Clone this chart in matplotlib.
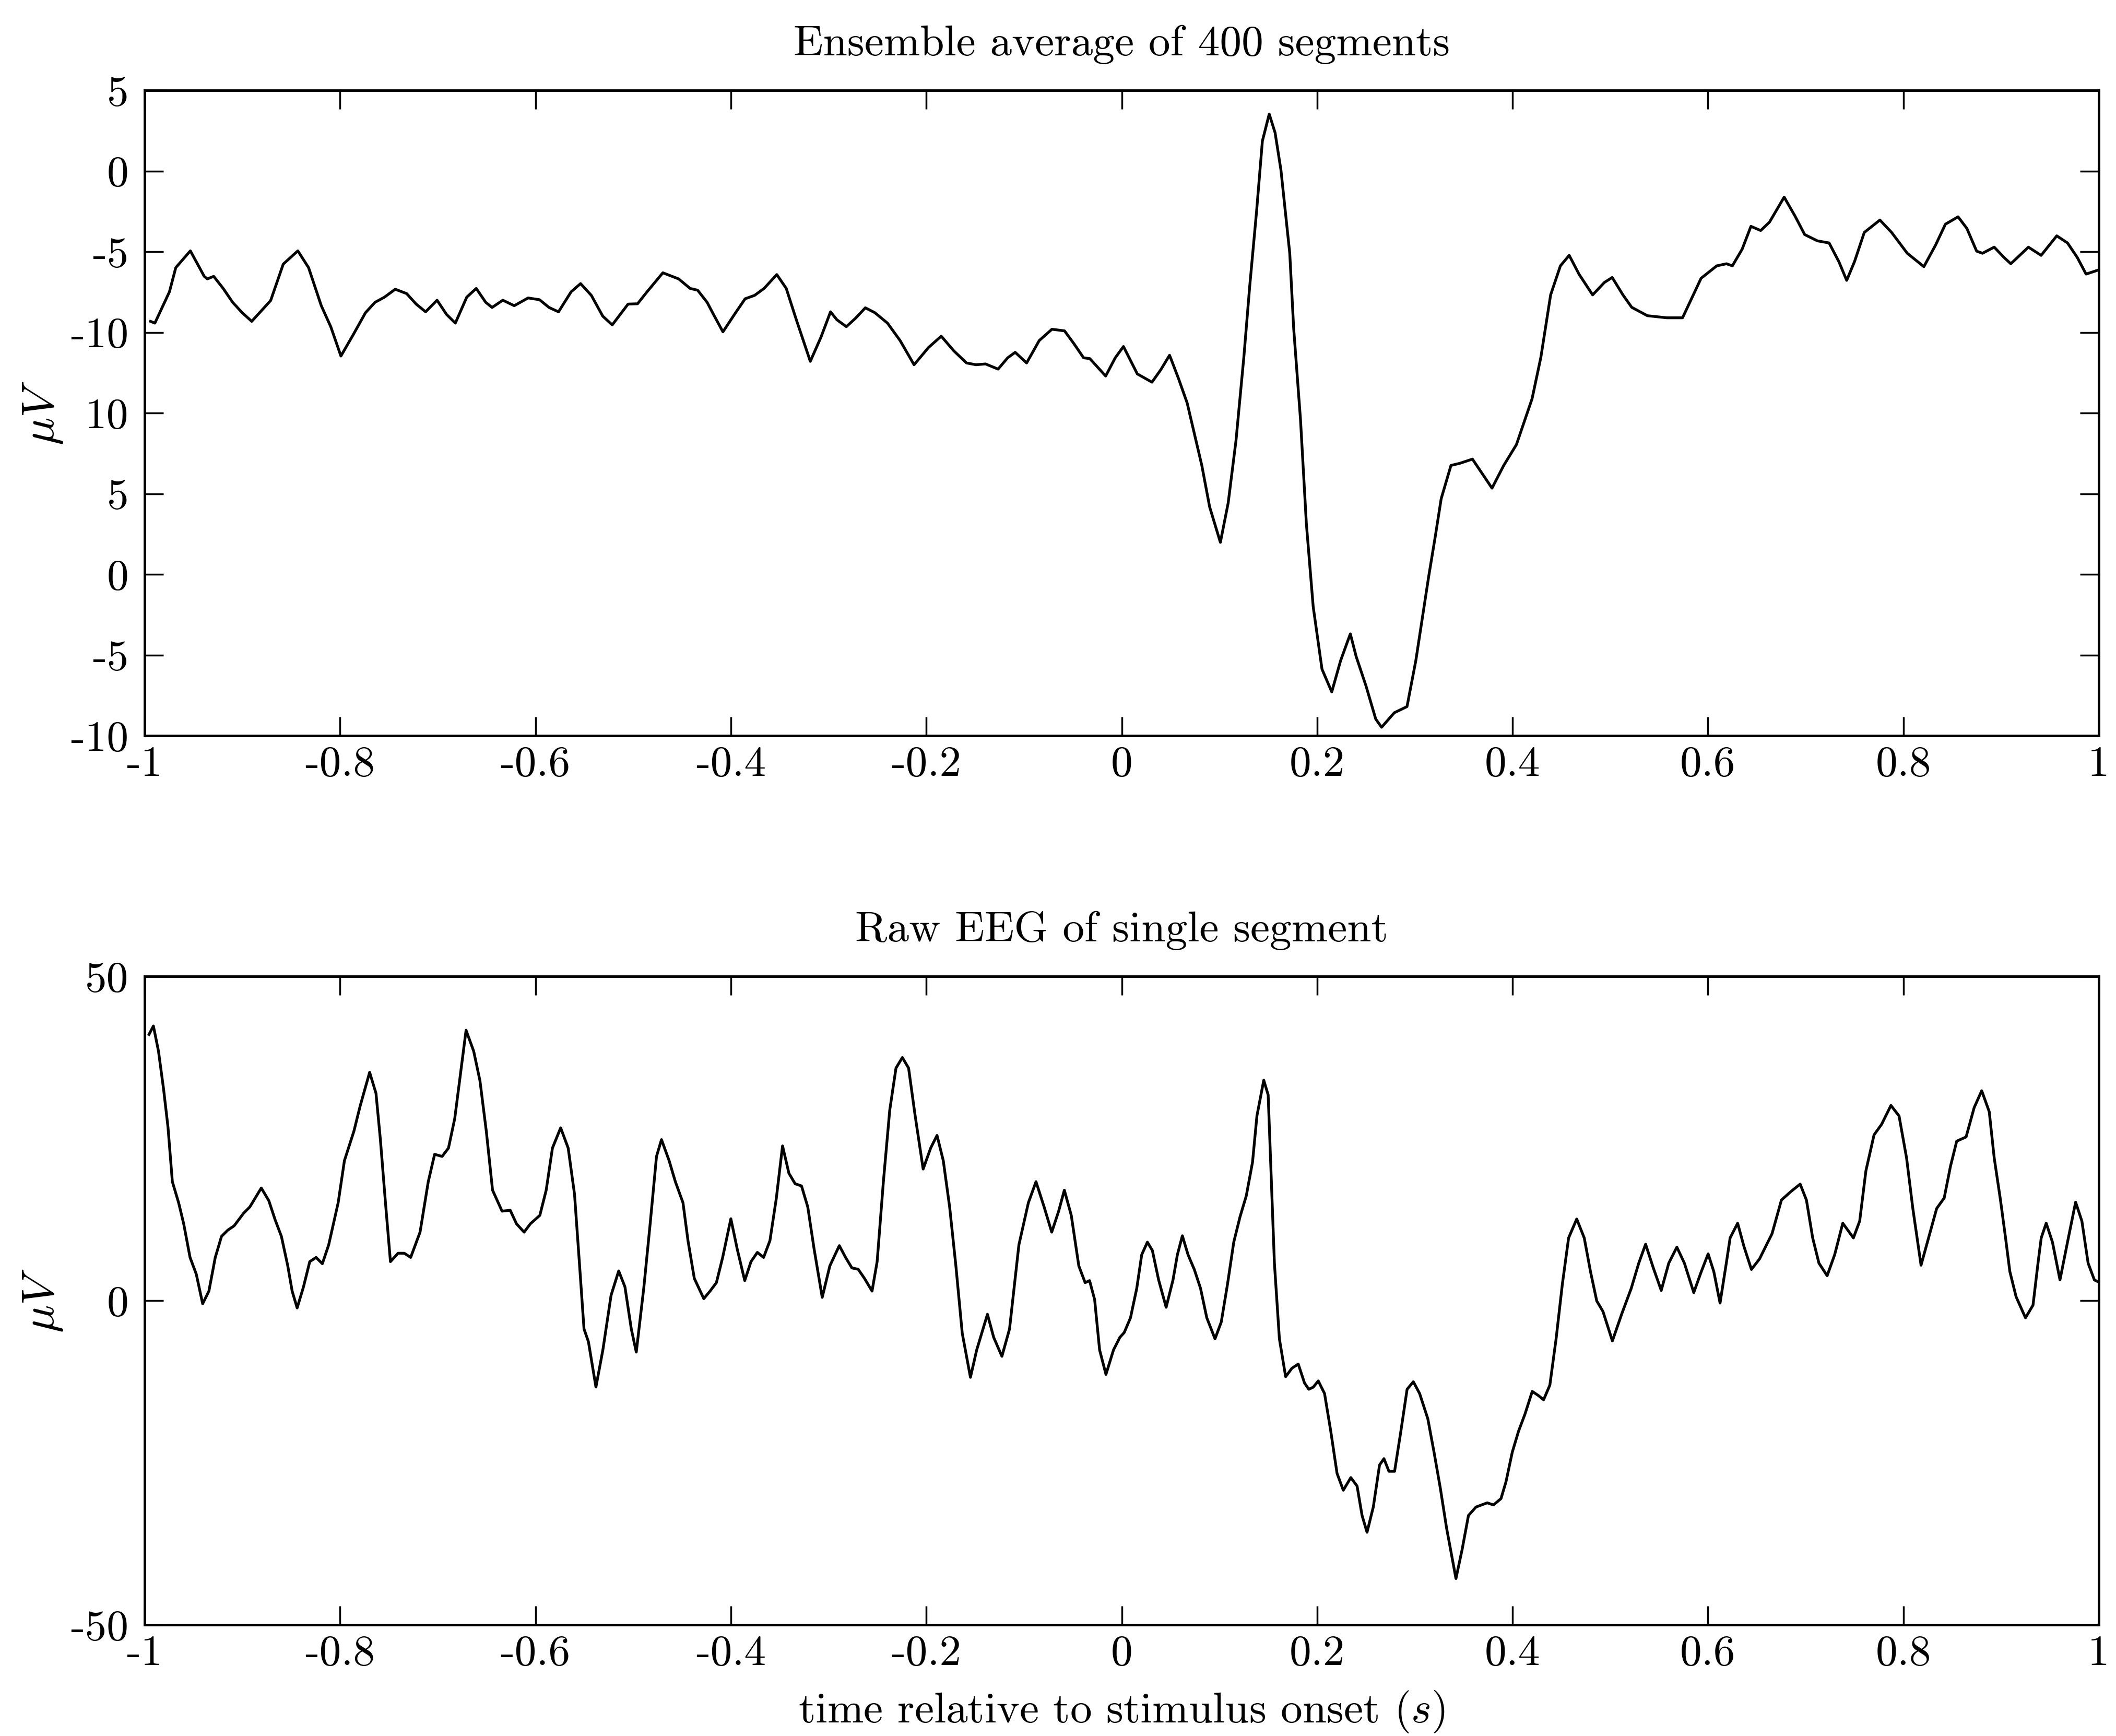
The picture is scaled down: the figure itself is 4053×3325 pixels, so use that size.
import matplotlib
matplotlib.use("Agg")
import matplotlib.pyplot as plt

plt.rcParams['font.family'] = ['cmr10', 'DejaVu Serif']
plt.rcParams['mathtext.fontset'] = 'cm'
plt.rcParams['axes.unicode_minus'] = False
plt.rcParams['axes.formatter.use_mathtext'] = True

# ---------------- data ----------------
avg_t = [-0.9940, -0.9895, -0.9746, -0.9681, -0.9532, -0.9390, -0.9358, -0.9293, -0.9196, -0.9099,
         -0.9002, -0.8904, -0.8710, -0.8581, -0.8432, -0.8322, -0.8192, -0.8095, -0.7991, -0.7868,
         -0.7739, -0.7642, -0.7545, -0.7435, -0.7318, -0.7221, -0.7124, -0.7007, -0.6910, -0.6820,
         -0.6703, -0.6606, -0.6509, -0.6444, -0.6334, -0.6217, -0.6075, -0.5958, -0.5861, -0.5764,
         -0.5635, -0.5538, -0.5428, -0.5311, -0.5214, -0.5052, -0.4955, -0.4858, -0.4696, -0.4534,
         -0.4417, -0.4340, -0.4243, -0.4178, -0.4081, -0.3951, -0.3854, -0.3757, -0.3660, -0.3530,
         -0.3433, -0.3336, -0.3187, -0.3077, -0.2980, -0.2915, -0.2818, -0.2721, -0.2624, -0.2527,
         -0.2397, -0.2268, -0.2125, -0.1977, -0.1847, -0.1718, -0.1588, -0.1491, -0.1394, -0.1265,
         -0.1167, -0.1090, -0.0973, -0.0844, -0.0714, -0.0585, -0.0487, -0.0390, -0.0326, -0.0164,
         -0.0066, 0.0018,
         0.016, 0.031, 0.040, 0.049, 0.058, 0.067, 0.074, 0.082, 0.090, 0.101,
         0.109, 0.117, 0.125, 0.131, 0.138, 0.144, 0.151, 0.157, 0.163, 0.172,
         0.176, 0.183, 0.189, 0.196, 0.205, 0.215, 0.224, 0.234, 0.240, 0.250,
         0.260, 0.266, 0.279, 0.292, 0.301, 0.314, 0.321, 0.327, 0.337, 0.346,
         0.359, 0.369, 0.379, 0.391, 0.404, 0.420, 0.429, 0.439, 0.449, 0.458,
         0.468, 0.482, 0.494, 0.502, 0.513, 0.522, 0.538, 0.558, 0.574, 0.583,
         0.593, 0.609, 0.619, 0.625, 0.635, 0.644, 0.654, 0.663, 0.678, 0.689,
         0.699, 0.712, 0.724, 0.734, 0.742, 0.750, 0.760, 0.776, 0.788, 0.804,
         0.821, 0.833, 0.843, 0.856, 0.865, 0.875, 0.881, 0.893, 0.903, 0.910,
         0.928, 0.941, 0.957, 0.968, 0.978, 0.987, 1.000]
avg_uv = [-9.32, -9.43, -7.49, -5.99, -4.95, -6.53, -6.69, -6.53, -7.28, -8.14,
          -8.78, -9.32, -8.03, -5.77, -4.95, -5.99, -8.35, -9.65, -11.47, -10.18,
          -8.78, -8.14, -7.82, -7.33, -7.60, -8.25, -8.73, -8.01, -8.89, -9.43,
          -7.82, -7.28, -8.14, -8.46, -8.01, -8.35, -7.87, -7.98, -8.46, -8.73,
          -7.49, -6.98, -7.71, -9.00, -9.54, -8.25, -8.23, -7.49, -6.31, -6.69,
          -7.28, -7.39, -8.14, -8.89, -9.97, -8.78, -7.92, -7.71, -7.28, -6.42,
          -7.28, -9.11, -11.80, -10.29, -8.73, -9.22, -9.65, -9.11, -8.48, -8.78,
          -9.43, -10.51, -12.01, -10.94, -10.24, -11.15, -11.90, -12.01, -11.96, -12.28,
          -11.58, -11.24, -11.90, -10.51, -9.81, -9.91, -10.72, -11.58, -11.63, -12.71,
          -11.58, -10.88,
          -12.58, -13.09, -12.32, -11.42, -12.84, -14.38, -16.19, -18.25, -20.82, -23.02,
          -20.57, -16.70, -11.55, -7.16, -2.53, 1.86, 3.53, 2.37, 0.05, -5.10,
          -9.74, -15.41, -21.86, -27.01, -30.88, -32.29, -30.36, -28.69, -30.10, -31.91,
          -33.97, -34.48, -33.58, -33.20, -30.36, -25.21, -22.63, -20.31, -18.25, -18.12,
          -17.86, -18.76, -19.66, -18.25, -16.96, -14.12, -11.55, -7.68, -5.88, -5.23,
          -6.39, -7.68, -6.91, -6.60, -7.68, -8.45, -8.97, -9.10, -9.10, -7.94,
          -6.65, -5.88, -5.75, -5.88, -4.85, -3.43, -3.69, -3.17, -1.62, -2.78,
          -3.94, -4.33, -4.46, -5.62, -6.78, -5.62, -3.81, -3.04, -3.81, -5.10,
          -5.93, -4.59, -3.30, -2.84, -3.56, -4.97, -5.10, -4.72, -5.36, -5.75,
          -4.72, -5.23, -4.02, -4.46, -5.36, -6.39, -6.13]

raw_t = [-0.9955, -0.9910, -0.9858, -0.9806, -0.9761, -0.9716, -0.9652, -0.9600, -0.9535, -0.9471,
         -0.9406, -0.9342, -0.9277, -0.9213, -0.9148, -0.9084, -0.8987, -0.8923, -0.8858, -0.8806,
         -0.8729, -0.8665, -0.8600, -0.8535, -0.8490, -0.8439, -0.8374, -0.8310, -0.8245, -0.8181,
         -0.8116, -0.8019, -0.7955, -0.7858, -0.7794, -0.7697, -0.7632, -0.7587, -0.7535, -0.7484,
         -0.7406, -0.7342, -0.7277, -0.7181, -0.7097, -0.7032, -0.6955, -0.6890, -0.6826, -0.6710,
         -0.6632, -0.6568, -0.6503, -0.6439, -0.6342, -0.6258, -0.6194, -0.6116, -0.6052, -0.5955,
         -0.5890, -0.5826, -0.5742, -0.5665, -0.5600, -0.5548, -0.5503, -0.5458, -0.5381, -0.5310,
         -0.5226, -0.5148, -0.5084, -0.5019, -0.4968, -0.4890, -0.4826, -0.4761, -0.4710, -0.4632,
         -0.4568, -0.4490, -0.4439, -0.4374, -0.4277, -0.4213, -0.4148, -0.4084, -0.4000, -0.3935,
         -0.3858, -0.3794, -0.3729, -0.3665, -0.3600, -0.3535, -0.3471, -0.3406, -0.3342, -0.3277,
         -0.3213, -0.3148, -0.3065, -0.2987, -0.2890, -0.2826, -0.2761, -0.2697, -0.2632, -0.2555,
         -0.2503, -0.2439, -0.2374, -0.2310, -0.2245, -0.2181, -0.2116, -0.2032, -0.1955, -0.1890,
         -0.1826, -0.1761, -0.1697, -0.1632, -0.1548, -0.1484, -0.1374, -0.1310, -0.1226, -0.1148,
         -0.1052, -0.0955, -0.0877, -0.0794, -0.0716, -0.0645, -0.0587, -0.0516, -0.0439, -0.0374,
         -0.0329, -0.0277, -0.0226, -0.0161, -0.0084, -0.0019,
         0.0026, 0.0090, 0.0154, 0.0205, 0.0263, 0.0314, 0.0378, 0.0455, 0.0525, 0.0570,
         0.0621, 0.0679, 0.0743, 0.0807, 0.0871, 0.0955, 0.1019, 0.1083, 0.1147, 0.1211,
         0.1275, 0.1339, 0.1384, 0.1454, 0.1499, 0.1531, 0.1563, 0.1614, 0.1678, 0.1742,
         0.1807, 0.1871, 0.1915, 0.1960, 0.2012, 0.2076, 0.2140, 0.2204, 0.2268, 0.2345,
         0.2409, 0.2460, 0.2511, 0.2575, 0.2639, 0.2684, 0.2735, 0.2793, 0.2857, 0.2921,
         0.2985, 0.3049, 0.3133, 0.3197, 0.3261, 0.3325, 0.3421, 0.3485, 0.3549, 0.3626,
         0.3741, 0.3805, 0.3882, 0.3933, 0.3997, 0.4061, 0.4126, 0.4202, 0.4266, 0.4318,
         0.4382, 0.4446, 0.4510, 0.4574, 0.4657, 0.4734, 0.4798, 0.4862, 0.4926, 0.5022,
         0.5119, 0.5215, 0.5292, 0.5362, 0.5439, 0.5522, 0.5599, 0.5682, 0.5759, 0.5855,
         0.5932, 0.6002, 0.6060, 0.6124, 0.6188, 0.6227, 0.6304, 0.6368, 0.6445, 0.6528,
         0.6656, 0.6752, 0.6848, 0.6944, 0.7008, 0.7072, 0.7136, 0.7220, 0.7297, 0.7380,
         0.7489, 0.7553, 0.7617, 0.7700, 0.7777, 0.7873, 0.7956, 0.8033, 0.8097, 0.8181,
         0.8258, 0.8341, 0.8418, 0.8482, 0.8546, 0.8642, 0.8725, 0.8802, 0.8879, 0.8930,
         0.8994, 0.9046, 0.9090, 0.9154, 0.9250, 0.9327, 0.9378, 0.9411, 0.9462, 0.9526,
         0.9603, 0.9680, 0.9763, 0.9827, 0.9891, 0.9955, 1.0000]
raw_uv = [41.04, 42.34, 38.45, 32.61, 26.77, 18.33, 15.09, 11.84, 6.65, 4.06,
          -0.49, 1.46, 6.65, 9.90, 10.87, 11.52, 13.47, 14.44, 16.06, 17.36,
          15.41, 12.49, 9.90, 5.35, 1.46, -1.14, 2.11, 6.00, 6.65, 5.68,
          8.60, 15.09, 21.58, 26.12, 30.01, 35.20, 31.96, 24.82, 15.09, 6.00,
          7.30, 7.30, 6.65, 10.55, 18.33, 22.55, 22.23, 23.52, 28.07, 41.69,
          38.45, 33.91, 26.12, 17.03, 13.79, 13.92, 11.84, 10.55, 11.84, 13.14,
          17.03, 23.52, 26.64, 23.52, 16.39, 5.35, -4.38, -6.33, -13.34, -7.62,
          0.81, 4.57, 2.11, -4.38, -7.95, 2.11, 11.84, 22.23, 24.82, 21.58,
          18.33, 15.09, 9.25, 3.41, 0.29, 1.46, 2.76, 6.65, 12.62, 7.95,
          3.08, 6.00, 7.43, 6.65, 9.25, 15.74, 23.85, 19.63, 18.01, 17.68,
          14.44, 7.95, 0.49, 5.35, 8.47, 6.65, 5.03, 4.83, 3.41, 1.46,
          6.00, 18.33, 29.36, 35.85, 37.48, 35.85, 28.72, 20.28, 23.52, 25.47,
          21.58, 14.44, 5.35, -5.03, -11.84, -7.62, -2.11, -5.68, -8.60, -4.38,
          8.60, 15.09, 18.33, 14.44, 10.55, 13.79, 17.03, 13.14, 5.35, 2.76,
          3.08, 0.16, -7.62, -11.39, -7.62, -5.68,
          -4.93, -2.66, 1.88, 7.07, 9.01, 7.72, 3.18, -1.04, 3.18, 7.07,
          9.99, 7.07, 4.80, 1.88, -2.66, -5.90, -3.31, 2.53, 9.01, 12.91,
          16.15, 21.34, 28.47, 33.98, 31.71, 18.74, 5.77, -5.90, -11.74, -10.44,
          -9.79, -12.71, -13.68, -13.36, -12.39, -14.33, -20.17, -26.65, -29.25, -27.30,
          -28.60, -33.14, -35.73, -31.84, -25.36, -24.38, -26.33, -26.33, -20.17, -13.68,
          -12.52, -14.33, -18.22, -23.41, -28.92, -35.08, -42.87, -38.33, -33.14, -31.84,
          -31.19, -31.52, -30.54, -27.95, -23.41, -20.17, -17.57, -14.01, -14.66, -15.30,
          -13.04, -5.90, 2.53, 9.66, 12.58, 9.66, 4.47, -0.06, -1.69, -6.23,
          -2.01, 1.88, 5.77, 8.69, 5.12, 1.56, 5.77, 8.24, 5.77, 1.23,
          4.47, 7.20, 4.47, -0.39, 5.77, 9.66, 11.93, 8.37, 4.80, 6.42,
          10.31, 15.50, 16.80, 17.96, 15.50, 9.66, 5.77, 3.83, 7.07, 11.93,
          9.66, 12.26, 20.04, 25.55, 27.17, 30.09, 28.47, 21.98, 14.20, 5.45,
          9.66, 14.20, 15.82, 20.69, 24.58, 25.23, 29.77, 32.36, 29.12, 21.98,
          15.50, 9.66, 4.47, 0.58, -2.66, -0.71, 5.77, 9.66, 11.93, 9.01,
          3.18, 9.01, 15.18, 12.26, 5.77, 3.18, 2.85]

x_ticks = [-1, -0.8, -0.6, -0.4, -0.2, 0, 0.2, 0.4, 0.6, 0.8, 1]
x_tick_labels = ['-1', '-0.8', '-0.6', '-0.4', '-0.2', '0', '0.2', '0.4', '0.6', '0.8', '1']
avg_y_ticks = [5, 0, -5, -10, -15, -20, -25, -30, -35]
avg_y_tick_labels = ['5', '0', '-5', '-10', '10', '5', '0', '-5', '-10']
raw_y_ticks = [50, 0, -50]
raw_y_tick_labels = ['50', '0', '-50']

title_avg = 'Ensemble average of 400 segments'
title_raw = 'Raw EEG of single segment'
x_label = 'time relative to stimulus onset $(s)$'
y_label = r'$\mu V$'

# ---------------- figure ----------------
W, H = 4053, 3325
fig = plt.figure(figsize=(W / 100, H / 100), dpi=100)

def px_rect(left, top, right, bottom):
    return [left / W, 1 - bottom / H, (right - left) / W, (bottom - top) / H]

ax1 = fig.add_axes(px_rect(277, 173, 4020, 1409))
ax2 = fig.add_axes(px_rect(277, 1870, 4020, 3112))

FS = 60
for ax, t, v, yt, ytl, ylim, title in [
        (ax1, avg_t, avg_uv, avg_y_ticks, avg_y_tick_labels, (-35, 5), title_avg),
        (ax2, raw_t, raw_uv, raw_y_ticks, raw_y_tick_labels, (-50, 50), title_raw)]:
    ax.plot(t, v, color='black', lw=3.8, solid_joinstyle='round')
    ax.set_xlim(-1, 1)
    ax.set_ylim(*ylim)
    ax.set_xticks(x_ticks)
    ax.set_xticklabels(x_tick_labels)
    ax.set_yticks(yt)
    ax.set_yticklabels(ytl)
    ax.tick_params(direction='in', length=26, width=2.5, top=True, right=True,
                   labelsize=FS, colors='black')
    ax.tick_params(axis='x', pad=14)
    ax.tick_params(axis='y', pad=22)
    for s in ax.spines.values():
        s.set_linewidth(3.5)
    ax.set_title(title, fontsize=FS, pad=48)
    ax.set_ylabel(y_label, fontsize=64)
    ax.yaxis.set_label_coords(-0.041, 0.5)

ax2.set_xlabel(x_label, fontsize=FS, labelpad=22)

fig.savefig('out.png', dpi=100, facecolor='white')
